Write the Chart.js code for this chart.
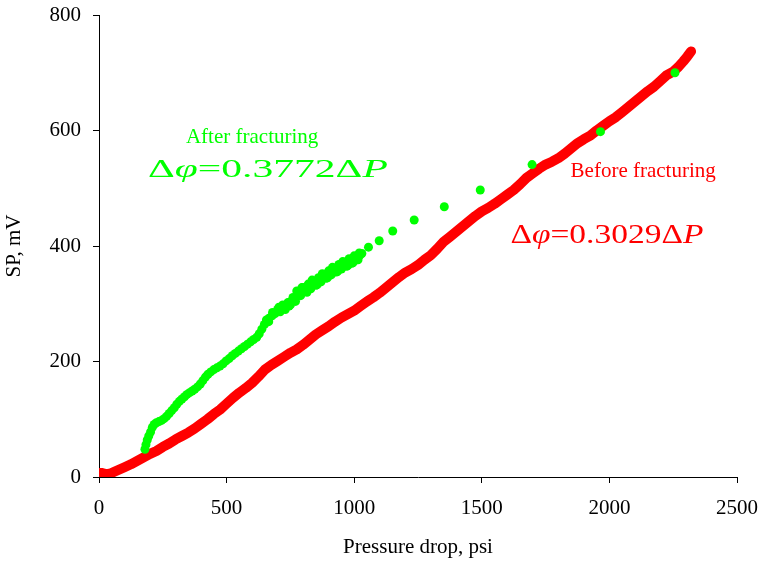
<!DOCTYPE html>
<html>
<head>
<meta charset="utf-8">
<script src="https://cdn.jsdelivr.net/npm/chart.js@4.4.1/dist/chart.umd.min.js"></script>
<style>
  html, body { margin: 0; padding: 0; background: #fff; }
  #sp-chart { display: block; }
</style>
</head>
<body>
<canvas id="sp-chart" width="761" height="564"></canvas>
<script>
// before fracturing: pressure drop (psi) vs SP (mV)
const beforeDrop = [0, 10, 20, 30, 45, 60, 80,
  100, 125, 150, 175, 200, 225, 250, 275, 300, 325,
  350, 375, 400, 425, 450, 475, 500, 525, 550, 575,
  600, 625, 650, 675, 700, 725, 750, 775, 800, 825,
  850, 875, 900, 925, 950, 975, 1000, 1025, 1050, 1075,
  1100, 1125, 1150, 1175, 1200, 1225, 1250, 1275, 1300, 1325,
  1350, 1375, 1400, 1425, 1450, 1475, 1500, 1525, 1550, 1575,
  1600, 1625, 1650, 1675, 1700, 1725, 1750, 1775, 1800, 1825,
  1850, 1875, 1900, 1925, 1950, 1975, 2000, 2025, 2050, 2075,
  2100, 2125, 2150, 2175, 2200, 2225, 2250,
  2270, 2290, 2305, 2320];
const beforeSP = [7, 7, 6, 5, 6, 9, 13,
  17, 22, 28, 34, 40, 45, 52, 58, 65, 71,
  77, 84, 92, 100, 109, 117, 127, 137, 146, 154,
  163, 174, 186, 194, 201, 208, 215, 221, 229, 238,
  247, 254, 261, 269, 276, 282, 288, 296, 304, 311,
  319, 328, 337, 346, 354, 360, 367, 376, 384, 395,
  407, 416, 425, 434, 443, 452, 460, 466, 473, 481,
  489, 497, 507, 518, 526, 534, 541, 546, 552, 560,
  569, 578, 585, 591, 600, 608, 616, 623, 632, 641,
  650, 659, 668, 676, 686, 696, 702,
  710, 720, 728, 737];

// after fracturing
const afterDrop = [180, 184, 189, 195, 202, 209, 216, 225, 235, 245,
  255, 265, 275, 285, 295, 305, 315, 325, 335, 345,
  355, 365, 375, 386, 397, 407, 417, 427, 438, 450,
  462, 474, 486, 498, 510, 522, 534, 546, 558, 570,
  582, 594, 606, 618, 628, 638, 648, 656, 666, 678,
  690, 702, 714, 726, 738, 750, 762, 772, 782, 792,
  802, 812, 822, 832, 842, 852, 862, 872, 882, 892,
  902, 912, 922, 932, 942, 952, 962, 972, 982, 992,
  1002, 1012, 1022, 1030,
  775, 795, 815, 835, 855, 875, 895, 915, 935, 955,
  975, 995, 1015, 705, 745, 665, 680,
  700, 720, 740, 760, 780, 800, 820, 840, 860, 880,
  900, 920, 940, 960, 980, 1000, 1020,
  710, 730, 750, 770, 790, 810, 830, 850, 870, 890,
  910, 930, 950, 970, 990, 1010,
  1056, 1098, 1151, 1235, 1353, 1494, 1697, 1965, 2257];
const afterSP = [48, 56, 64, 71, 78, 86, 91, 94, 96, 98,
  101, 105, 110, 115, 120, 126, 131, 135, 139, 143,
  146, 149, 152, 156, 161, 167, 173, 178, 182, 186,
  189, 192, 196, 201, 205, 210, 214, 218, 222, 226,
  230, 234, 238, 242, 248, 256, 264, 272, 275, 279,
  283, 287, 291, 295, 299, 303, 307, 311, 317, 321,
  324, 327, 330, 333, 336, 339, 342, 345, 348, 351,
  354, 357, 360, 362, 365, 367, 370, 372, 375, 377,
  380, 382, 384, 387,
  322, 328, 320, 341, 333, 352, 345, 363, 356, 373,
  366, 371, 376, 294, 296, 269, 285,
  290, 298, 302, 311, 321, 328, 334, 338, 345, 350,
  357, 361, 368, 372, 378, 383, 388,
  286, 290, 298, 304, 314, 322, 326, 332, 338, 344,
  350, 355, 360, 365, 370, 376,
  398, 409, 426, 445, 468, 497, 541, 598, 700];

const xTicks = [0, 500, 1000, 1500, 2000, 2500];
const yTicks = [0, 200, 400, 600, 800];

const RED = '#ff0000';
const GREEN = '#00ff00';
const SERIF = '"Liberation Serif", "Times New Roman", serif';

function toPoints(xs, ys) {
  return xs.map((v, i) => ({ x: v, y: ys[i] }));
}

// fixed axis box, no extra room for overhanging tick labels
function fixBox(size, vertical) {
  return s => {
    if (vertical) s.width = size; else s.height = size;
    s.paddingLeft = s.paddingRight = s.paddingTop = s.paddingBottom = 0;
  };
}

// Δφ = k ΔP, with φ and P in italics, stretched sideways
function drawFormula(ctx, parts, px, py, size, stretch, color) {
  ctx.save();
  ctx.translate(px, py);
  ctx.scale(stretch, 1);
  ctx.fillStyle = color;
  ctx.textAlign = 'left';
  ctx.textBaseline = 'alphabetic';
  let cx = 0;
  parts.forEach(([txt, italic]) => {
    ctx.font = (italic ? 'italic ' : '') + size + 'px ' + SERIF;
    ctx.fillText(txt, cx, 0);
    cx += ctx.measureText(txt).width;
  });
  ctx.restore();
}

const fitLabels = {
  id: 'fitLabels',
  afterDatasetsDraw(chart) {
    const { ctx, scales: { x, y } } = chart;
    ctx.save();
    ctx.font = '21px ' + SERIF;
    ctx.textBaseline = 'alphabetic';

    ctx.fillStyle = GREEN;
    ctx.textAlign = 'center';
    ctx.fillText('After fracturing', x.getPixelForValue(600), y.getPixelForValue(579));

    ctx.fillStyle = RED;
    ctx.textAlign = 'left';
    ctx.fillText('Before fracturing', x.getPixelForValue(1848), y.getPixelForValue(519));
    ctx.restore();

    drawFormula(ctx, [['Δ', false], ['φ', true], ['=0.3772Δ', false], ['P', true]],
      x.getPixelForValue(192), y.getPixelForValue(520), 26, 1.6, GREEN);
    drawFormula(ctx, [['Δ', false], ['φ', true], ['=0.3029Δ', false], ['P', true]],
      x.getPixelForValue(1612), y.getPixelForValue(406), 27, 1.24, RED);
  }
};

new Chart(document.getElementById('sp-chart'), {
  type: 'scatter',
  data: {
    datasets: [
      {
        label: 'After fracturing',
        data: toPoints(afterDrop, afterSP),
        backgroundColor: GREEN,
        borderWidth: 0,
        pointRadius: 4.5,
        pointHoverRadius: 4.5
      },
      {
        // dense readings merge into one thick band
        label: 'Before fracturing',
        data: toPoints(beforeDrop, beforeSP),
        showLine: true,
        borderColor: RED,
        borderWidth: 10,
        borderCapStyle: 'round',
        borderJoinStyle: 'round',
        backgroundColor: RED,
        pointRadius: 0,
        pointHoverRadius: 0
      }
    ]
  },
  options: {
    responsive: false,
    animation: false,
    layout: { padding: { top: 15, right: 24, left: 0, bottom: 0 } },
    plugins: {
      legend: { display: false },
      tooltip: { enabled: false }
    },
    scales: {
      x: {
        type: 'linear',
        min: 0,
        max: 2500,
        afterBuildTicks: s => { s.ticks = xTicks.map(v => ({ value: v })); },
        afterFit: fixBox(87, false),
        grid: { drawOnChartArea: false, tickLength: 6, color: '#000' },
        border: { color: '#000' },
        ticks: {
          color: '#000', padding: 13, maxRotation: 0,
          font: { family: SERIF, size: 21 },
          callback: v => String(v)
        },
        title: {
          display: true,
          text: 'Pressure drop, psi',
          color: '#000',
          font: { family: SERIF, size: 21 },
          padding: { top: 0, bottom: 4 }
        }
      },
      y: {
        type: 'linear',
        min: 0,
        max: 800,
        afterBuildTicks: s => { s.ticks = yTicks.map(v => ({ value: v })); },
        afterFit: fixBox(99, true),
        grid: { drawOnChartArea: false, tickLength: 6, color: '#000' },
        border: { color: '#000' },
        ticks: {
          color: '#000', padding: 12,
          font: { family: SERIF, size: 21 },
          callback: v => String(v)
        },
        title: {
          display: true,
          text: 'SP, mV',
          color: '#000',
          font: { family: SERIF, size: 21 },
          padding: { top: 2, bottom: 0 }
        }
      }
    }
  },
  plugins: [fitLabels]
});
</script>
</body>
</html>
